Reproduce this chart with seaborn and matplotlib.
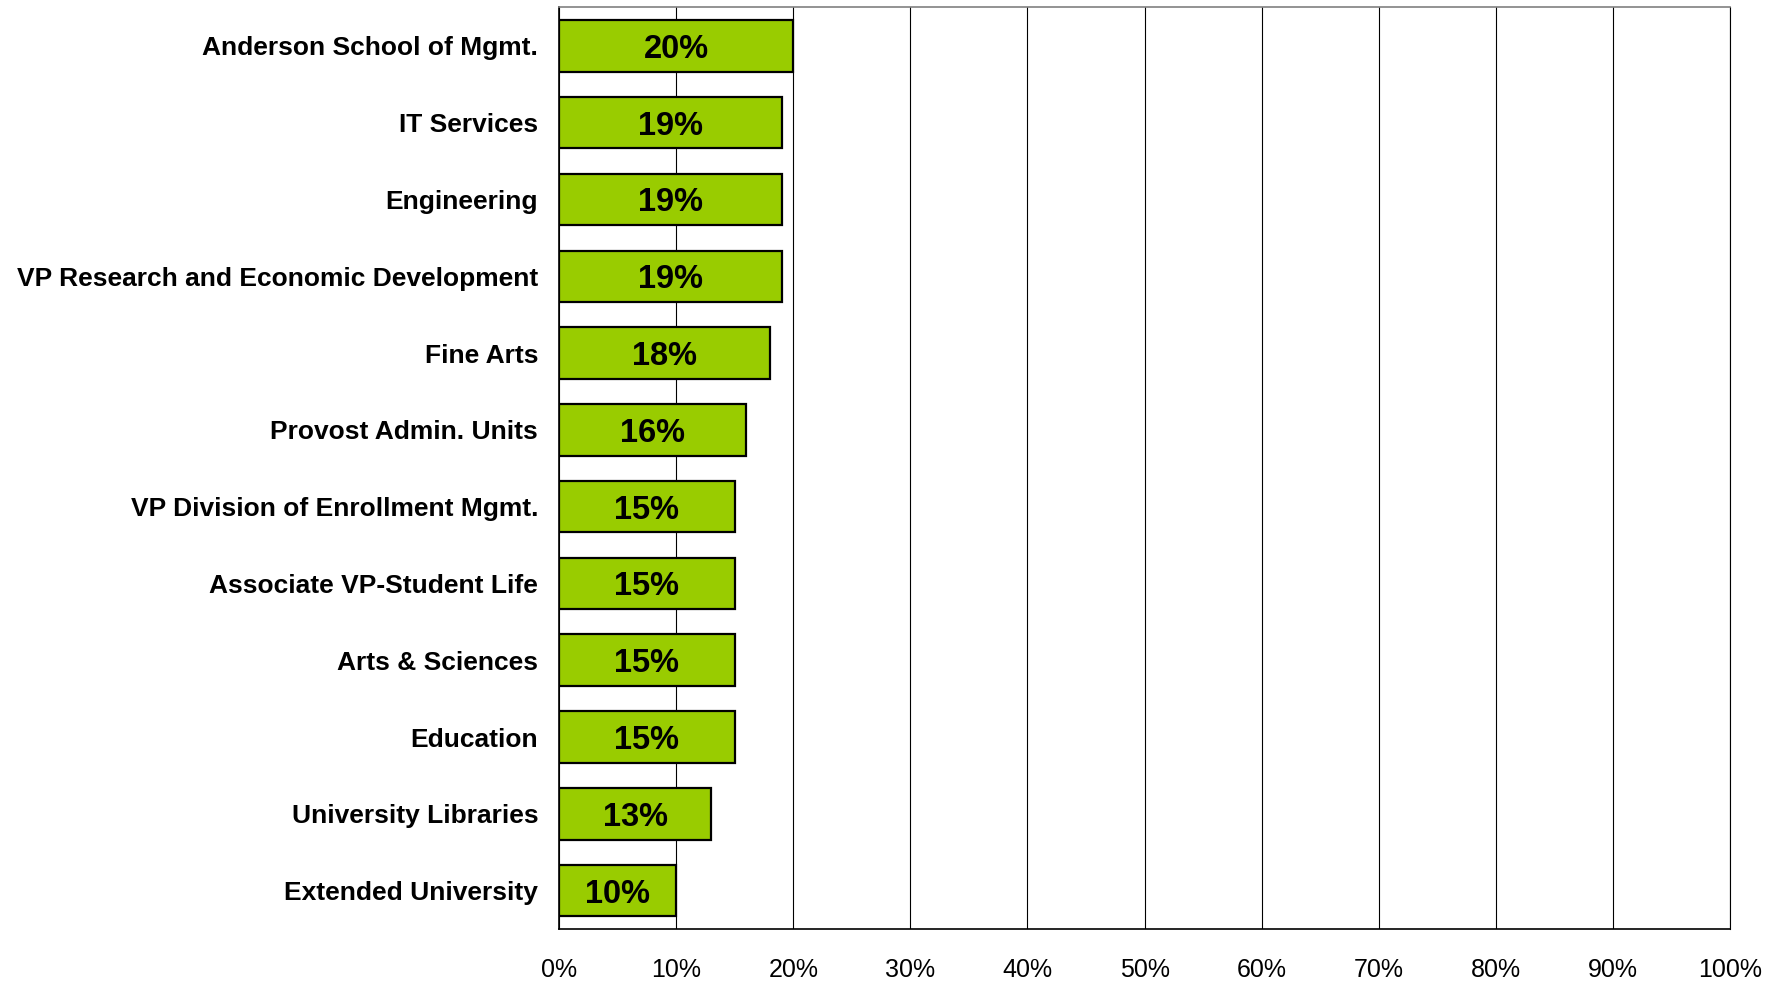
import numpy as np
import pandas as pd
import matplotlib.pyplot as plt
import seaborn as sns

sns.set_style('white')
plt.rcParams['font.family'] = ['Liberation Sans', 'DejaVu Sans']
plt.rcParams['text.color'] = 'black'
plt.rcParams['xtick.color'] = 'black'
plt.rcParams['ytick.color'] = 'black'

units = ['Anderson School of Mgmt.', 'IT Services', 'Engineering',
         'VP Research and Economic Development', 'Fine Arts',
         'Provost Admin. Units', 'VP Division of Enrollment Mgmt.',
         'Associate VP-Student Life', 'Arts & Sciences', 'Education',
         'University Libraries', 'Extended University']
pct = [20, 19, 19, 19, 18, 16, 15, 15, 15, 15, 13, 10]

df = pd.DataFrame({'unit': units, 'pct': pct})

fig = plt.figure(figsize=(17.77, 9.81), dpi=100)
ax = fig.add_axes([0.3146, 0.053, 0.659, 0.9394])

sns.barplot(data=df, x='pct', y='unit', color='#99CC00', saturation=1,
            edgecolor='black', linewidth=1.6, width=0.67, ax=ax, zorder=3)

for i, v in enumerate(pct):
    ax.text(v / 2, i, f'{v}%', ha='center', va='center_baseline',
            fontsize=23.5, fontweight='bold', color='black', zorder=4)

ax.set_xlim(0, 100)
ax.set_ylim(len(units) - 0.5, -0.5)
ax.set_xticks(range(0, 101, 10))
ax.set_xticklabels([f'{t}%' for t in range(0, 101, 10)], fontsize=18)
ax.xaxis.grid(True, color='black', linewidth=0.8, zorder=0)

# category labels centred, ticks between categories
ax.set_yticks(range(len(units)))
ax.set_yticklabels(units, fontsize=19, fontweight='bold')
ax.tick_params(axis='y', length=0, pad=15, labelcolor='black')
ax.set_yticks(np.arange(-0.5, len(units)), minor=True)
ax.tick_params(axis='y', which='minor', length=9, width=0.8, color='#444444')
ax.tick_params(axis='x', length=8, width=0.8, color='#888888', pad=13,
               labelcolor='black')

ax.set_xlabel('')
ax.set_ylabel('')
for s in ['left', 'bottom']:
    ax.spines[s].set_color('black')
    ax.spines[s].set_linewidth(1.2)
ax.spines['top'].set_color('#808080')
ax.spines['top'].set_linewidth(1.2)
ax.spines['right'].set_color('black')
ax.spines['right'].set_linewidth(0.8)

fig.savefig('out.png', dpi=100)
